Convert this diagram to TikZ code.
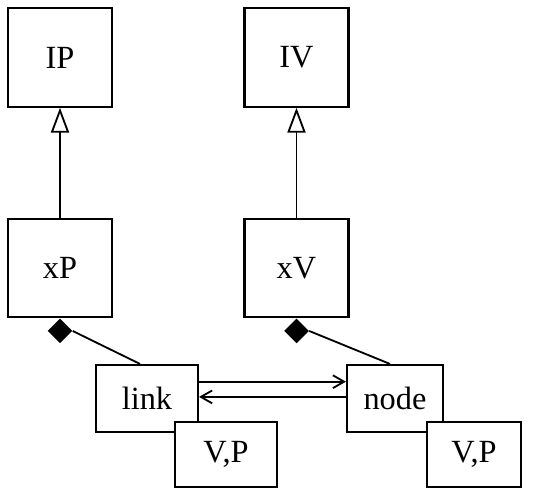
\documentclass[tikz,border=0pt]{standalone}
\usepackage{fontspec}
\setmainfont{Liberation Serif}
\usetikzlibrary{positioning,arrows.meta,calc,shapes.geometric}
\tikzset{
  cls/.style={draw,line width=1.5pt,fill=white,inner sep=0pt,font=\fontsize{23}{27}\selectfont},
  bigcls/.style={cls,minimum width=2.6cm,minimum height=2.46cm},
  inherit/.style={line width=1.3pt,-{Triangle[open,length=0.62cm,width=0.45cm]}},
  assoc/.style={line width=1.3pt,-{Straight Barb[length=0.28cm,width=0.32cm]}},
  compo/.style={diamond,fill=black,inner sep=0pt,minimum size=0.62cm,anchor=north}
}
\begin{document}
\begin{tikzpicture}[x=0.025cm,y=-0.025cm]
\useasboundingbox (0,0) rectangle (540,489);
% interfaces and their implementations
\node[bigcls] (IP) at (60,57.5) {IP};
\node[bigcls] (IV) at (296.5,57.5) {IV};
\node[bigcls] (xP) at (60,268) {xP};
\node[bigcls] (xV) at (296.5,268) {xV};
\draw[inherit] (xP) -- (IP);
\draw[inherit] (xV) -- (IV);
% parts
\node[cls,minimum width=2.55cm,minimum height=1.675cm] (link) at (147,398.5) {link};
\node[cls,minimum width=2.4cm,minimum height=1.675cm] (node) at (395,398.5) {node};
\node[compo] (dP) at (xP.south) {};
\node[compo] (dV) at (xV.south) {};
\draw[line width=1.3pt] (dP.east) -- ($(link.north)+(-7,0)$);
\draw[line width=1.3pt] (dV.east) -- ($(node.north)+(-5,0)$);
\draw[assoc] ([yshift=0.42cm]link.east) -- ([yshift=0.42cm]node.west);
\draw[assoc] ([yshift=0.04cm]node.west) -- ([yshift=0.04cm]link.east);
% template parameters
\node[cls,minimum width=2.55cm,minimum height=1.625cm] (tlink) at (226,454.5) {V,P};
\node[cls,minimum width=2.35cm,minimum height=1.625cm] (tnode) at (474,454.5) {V,P};
\end{tikzpicture}
\end{document}
